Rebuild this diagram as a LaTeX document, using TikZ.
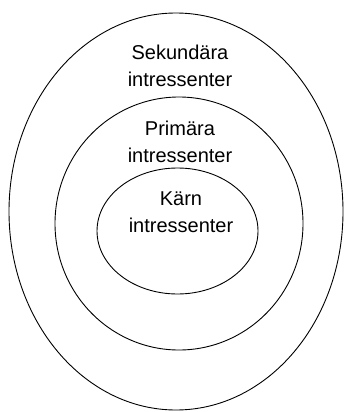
\documentclass[tikz,border=0pt]{standalone}
\usepackage{fontspec}
\setmainfont{Liberation Sans}
\usetikzlibrary{shapes.geometric,positioning}
\tikzset{
	ring/.style={draw, ellipse, line width=0.9pt, inner sep=0pt},
	lab/.style={align=center, inner sep=0pt, font=\fontsize{20}{27}\selectfont}
}
\begin{document}
\begin{tikzpicture}[x=1pt,y=-1pt]
	\useasboundingbox (0,0) rectangle (348,412);
	\node[ring, minimum width=334pt, minimum height=397pt] (outer) at (176,211.5) {};
	\node[ring, minimum width=248pt, minimum height=253pt] (middle) at (179,223.5) {};
	\node[ring, minimum width=161pt, minimum height=126pt] (inner) at (177.5,231) {};
	\node[lab] (sek) at (180,66) {Sekundära\\intressenter};
	\node[lab] (prim) at (180,142) {Primära\\intressenter};
	\node[lab] (karn) at (181,212) {Kärn\\intressenter};
\end{tikzpicture}
\end{document}
